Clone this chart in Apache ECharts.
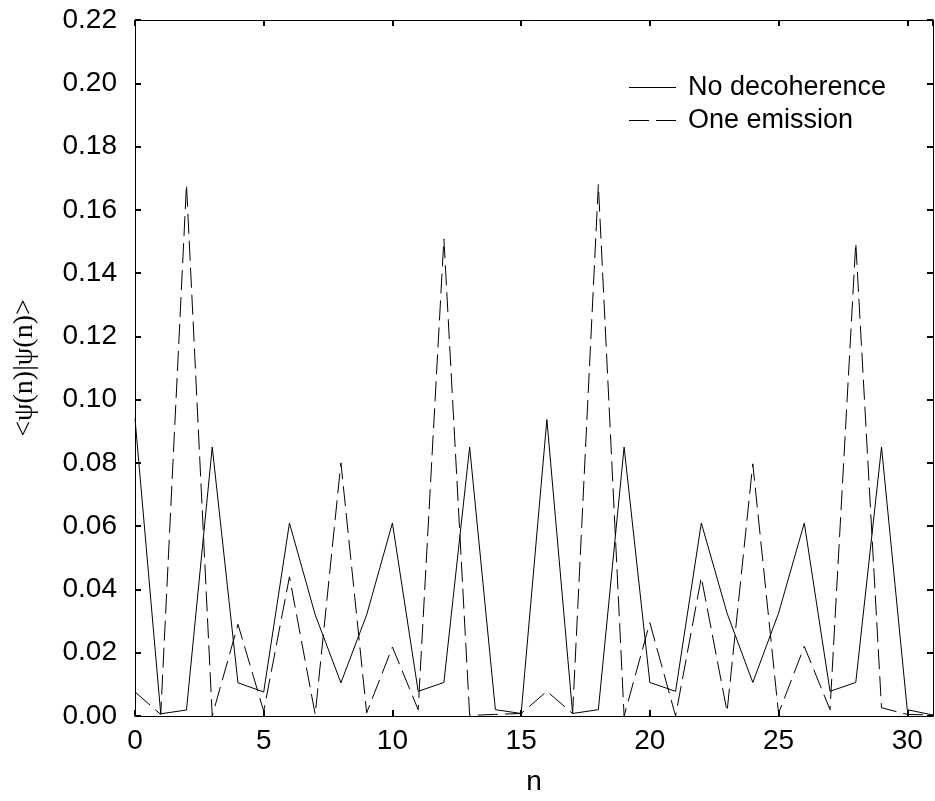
<!DOCTYPE html>
<html>
<head>
<meta charset="utf-8">
<script src="https://cdn.jsdelivr.net/npm/echarts@6/dist/echarts.min.js"></script>
<style>
html,body{margin:0;padding:0;background:#fff;}
#chart{width:935px;height:801px;}
</style>
</head>
<body>
<div id="chart"></div>
<script>
var nValues = [0,1,2,3,4,5,6,7,8,9,10,11,12,13,14,15,16,17,18,19,20,21,22,23,24,25,26,27,28,29,30,31];
var noDecoherence = [0.094, 0.0007, 0.0019, 0.085, 0.0105, 0.0076, 0.061, 0.032, 0.0105, 0.032, 0.061, 0.0078, 0.0106, 0.085, 0.002, 0.0008, 0.0937, 0.0008, 0.002, 0.085, 0.0106, 0.0078, 0.061, 0.0325, 0.0106, 0.0325, 0.061, 0.0078, 0.0106, 0.085, 0.002, 0.0003];
var oneEmission = [0.0076, 0.0005, 0.168, 0.0, 0.029, 0.0015, 0.044, 0.0005, 0.080, 0.001, 0.0218, 0.002, 0.1508, 0.0002, 0.0005, 0.0008, 0.0078, 0.0008, 0.168, 0.0, 0.0295, 0.0, 0.0438, 0.0014, 0.0797, 0.0008, 0.022, 0.002, 0.1496, 0.0026, 0.0005, 0.0003];
var seriesNames = ['No decoherence', 'One emission'];
var xTicks = {min: 0, max: 31, interval: 5};
var yTicks = {min: 0, max: 0.22, interval: 0.02};

function pairs(xs, ys){ return xs.map(function(x,i){ return [x, ys[i]]; }); }

var font = 'Liberation Sans, Arial, Helvetica, sans-serif';
var tickStyle = {show:true, inside:true, length:6, lineStyle:{color:'#000', width:2}};
var lineAx = {show:true, onZero:false, lineStyle:{color:'#000', width:1}};

var chart = echarts.init(document.getElementById('chart'), null, {renderer:'canvas'});
chart.setOption({
  animation:false,
  backgroundColor:'#fff',
  grid:{left:135, top:20, right:2, bottom:83, containLabel:false},
  legend:{
    orient:'vertical', left:624, top:69,
    itemWidth:47, itemHeight:1, itemGap:6,
    textStyle:{fontFamily:font, fontSize:27, color:'#000', padding:[0,0,0,7]},
    data:[
      {name:seriesNames[0], icon:'path://M0,0h47v1h-47z'},
      {name:seriesNames[1], icon:'path://M0,0h20v1h-20z M27,0h20v1h-20z'}
    ]
  },
  xAxis:[
    {type:'value', position:'bottom', min:xTicks.min, max:xTicks.max, interval:xTicks.interval,
     axisLine:lineAx, axisTick:tickStyle, splitLine:{show:false},
     axisLabel:{fontFamily:font, fontSize:28, color:'#000', margin:11, showMaxLabel:false},
     name:'n', nameLocation:'middle', nameGap:52,
     nameTextStyle:{fontFamily:font, fontSize:28, color:'#000'}},
    {type:'value', position:'top', min:xTicks.min, max:xTicks.max, interval:xTicks.interval,
     axisLine:lineAx, axisTick:tickStyle, splitLine:{show:false}, axisLabel:{show:false}}
  ],
  yAxis:[
    {type:'value', position:'left', min:yTicks.min, max:yTicks.max, interval:yTicks.interval,
     axisLine:lineAx, axisTick:tickStyle, splitLine:{show:false},
     axisLabel:{fontFamily:font, fontSize:28, color:'#000', margin:18,
       formatter:function(v){ return v.toFixed(2); }},
     name:'<ψ(n)|ψ(n)>', nameLocation:'middle', nameGap:96, nameRotate:90,
     nameTextStyle:{fontFamily:'Liberation Serif, Times New Roman, serif', fontSize:28, color:'#000'}},
    {type:'value', position:'right', min:yTicks.min, max:yTicks.max, interval:yTicks.interval,
     axisLine:lineAx, axisTick:tickStyle, splitLine:{show:false}, axisLabel:{show:false}}
  ],
  series:[
    {name:seriesNames[0], type:'line', data:pairs(nValues, noDecoherence), symbol:'none',
     lineStyle:{color:'#000', width:1, type:'solid'}, itemStyle:{color:'#000'}},
    {name:seriesNames[1], type:'line', data:pairs(nValues, oneEmission), symbol:'none',
     lineStyle:{color:'#000', width:1, type:[20,7]}, itemStyle:{color:'#000'}}
  ]
});
</script>
</body>
</html>
